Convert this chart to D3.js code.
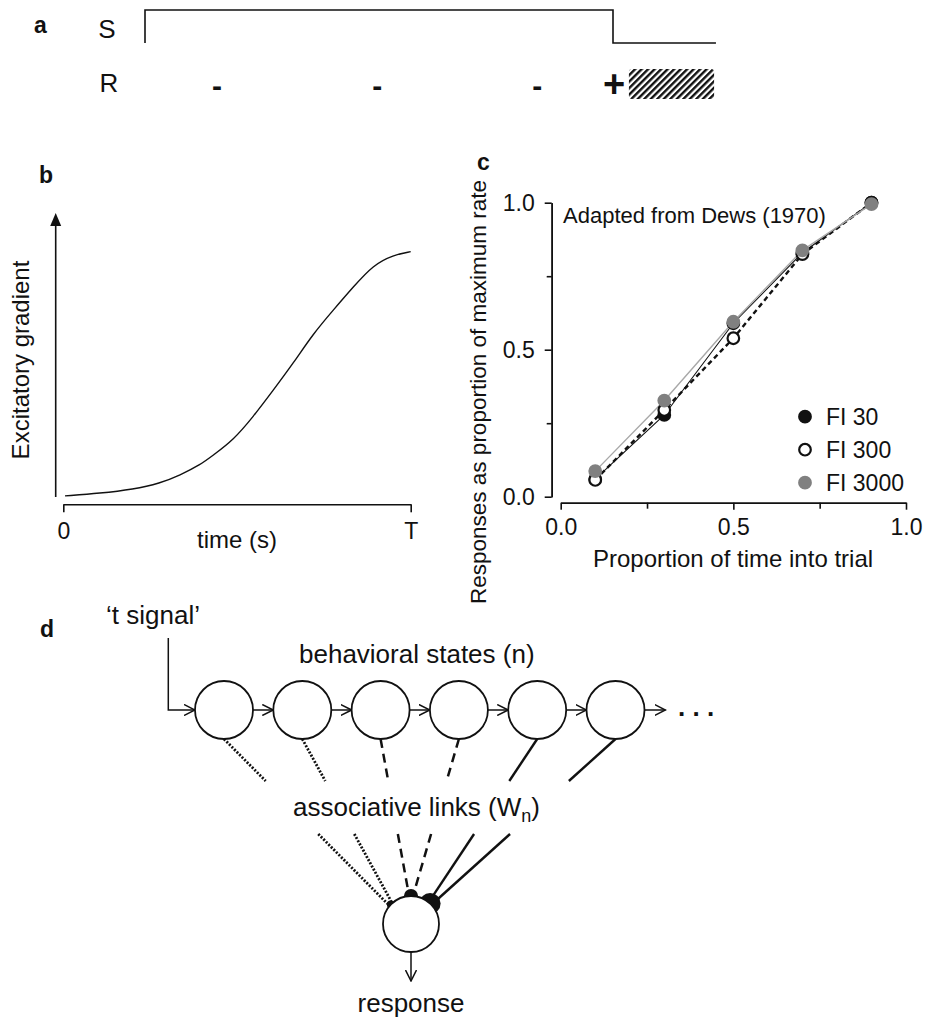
<!DOCTYPE html>
<html>
<head>
<meta charset="utf-8">
<script src="https://cdn.jsdelivr.net/npm/d3@7"></script>
<style>
  body { margin: 0; background: #fff; }
  svg { display: block; }
  text { font-family: "Liberation Sans", Arial, Helvetica, sans-serif; fill: #111; }
</style>
</head>
<body>
<svg id="fig" width="933" height="1023"></svg>
<script>
// ---------------- data ----------------
// (a) stimulus trace over one fixed-interval trial (time in trial units)
const stimulusTrace = [[0, 0], [0, 1], [1, 1], [1, 0], [1.22, 0]];
const unreinforcedTimes = [0.154, 0.496, 0.838];
const reinforcedTime = 1.0;
const reinforcerSpan = [1.034, 1.216];

// (b) excitatory gradient across the interval
const gradientTime  = [0.005, 0.106, 0.202, 0.278, 0.336, 0.394, 0.432, 0.489, 0.547, 0.605, 0.662, 0.720, 0.777, 0.835, 0.892, 0.950, 1.0];
const gradientValue = [0.004, 0.013, 0.027, 0.048, 0.077, 0.113, 0.148, 0.200, 0.283, 0.377, 0.471, 0.576, 0.658, 0.740, 0.817, 0.852, 0.864];
const timeTickLabels = ["0", "T"];

// (c) Dews (1970): responses as proportion of maximum rate
const trialProportion = [0.1, 0.3, 0.5, 0.7, 0.9];
const fi30   = [0.060, 0.278, 0.590, 0.830, 1.000];
const fi300  = [0.057, 0.295, 0.539, 0.825, 1.000];
const fi3000 = [0.087, 0.327, 0.595, 0.838, 0.995];
const seriesNames = ["FI 30", "FI 300", "FI 3000"];
const majorTicksC = [0, 0.5, 1];
const minorTicksC = [0.25, 0.75];

// (d) chain of behavioral states with associative links to the response unit
const stateIndex = [0, 1, 2, 3, 4, 5];
const linkStyle  = ["dotted", "dotted", "dashed", "dashed", "solid", "solid"];
const linkWeight = [0.38, 0.38, 0.67, 0.67, 1.0, 1.0];

// ---------------- drawing ----------------
const svg = d3.select("#fig");
const defs = svg.append("defs");

defs.append("marker").attr("id", "chev")
  .attr("viewBox", "0 0 12 12").attr("refX", 11).attr("refY", 6)
  .attr("markerWidth", 12).attr("markerHeight", 12).attr("markerUnits", "userSpaceOnUse")
  .attr("orient", "auto")
  .append("path").attr("d", "M0,0.5 L11,6 L0,11.5")
  .attr("fill", "none").attr("stroke", "#111").attr("stroke-width", 1.5);

defs.append("pattern").attr("id", "hatch")
  .attr("patternUnits", "userSpaceOnUse").attr("width", 4.6).attr("height", 4.6)
  .attr("patternTransform", "rotate(45)")
  .append("rect").attr("width", 2.4).attr("height", 4.6).attr("fill", "#111");

function panelLabel(t, x, y) {
  svg.append("text").attr("x", x).attr("y", y).attr("font-size", 23)
    .attr("font-weight", "bold").text(t);
}

// ===== (a) =====
panelLabel("a", 34, 33);
const xA = d3.scaleLinear().domain([0, 1]).range([145, 613]);
const yA = d3.scaleLinear().domain([0, 1]).range([43, 10]);
svg.append("text").attr("x", 107).attr("y", 38).attr("font-size", 26)
  .attr("text-anchor", "middle").text("S");
svg.append("text").attr("x", 109).attr("y", 92).attr("font-size", 26)
  .attr("text-anchor", "middle").text("R");
svg.append("path").datum(stimulusTrace)
  .attr("d", d3.line().x(d => xA(d[0])).y(d => yA(d[1])))
  .attr("fill", "none").attr("stroke", "#111").attr("stroke-width", 1.6);
svg.selectAll(".neg").data(unreinforcedTimes).join("text")
  .attr("x", d => xA(d)).attr("y", 96).attr("font-size", 30).attr("font-weight", "bold")
  .attr("text-anchor", "middle").text("-");
svg.append("text").attr("x", xA(reinforcedTime) + 1).attr("y", 97)
  .attr("font-size", 38).attr("font-weight", "bold").attr("text-anchor", "middle").text("+");
svg.append("rect")
  .attr("x", xA(reinforcerSpan[0])).attr("y", 69)
  .attr("width", xA(reinforcerSpan[1]) - xA(reinforcerSpan[0])).attr("height", 30)
  .attr("rx", 3).attr("fill", "url(#hatch)");

// ===== (b) =====
panelLabel("b", 39, 183);
const xB = d3.scaleLinear().domain([0, 1]).range([63.3, 410.7]);
const yB = d3.scaleLinear().domain([0, 1]).range([497, 213]);
svg.append("line")
  .attr("x1", 55.7).attr("x2", 55.7).attr("y1", yB(0)).attr("y2", yB(1) + 12)
  .attr("stroke", "#111").attr("stroke-width", 1.6);
svg.append("path").attr("d", `M${55.7 - 5.5},${yB(1) + 13} L55.7,${yB(1)} L${55.7 + 5.5},${yB(1) + 13} Z`)
  .attr("fill", "#111");
const axB = svg.append("g").attr("transform", "translate(0,504.3)")
  .call(d3.axisBottom(xB).tickValues([0, 1]).tickFormat((d, i) => timeTickLabels[i])
    .tickSizeInner(8).tickSizeOuter(0).tickPadding(10));
axB.select(".domain").attr("stroke", "#111").attr("stroke-width", 1.6);
axB.selectAll(".tick line").attr("stroke", "#111").attr("stroke-width", 1.6);
axB.selectAll(".tick text").attr("font-size", 23).attr("fill", "#111")
  .style("font-family", '"Liberation Sans", Arial, sans-serif');
svg.append("path")
  .datum(gradientTime.map((t, i) => [t, gradientValue[i]]))
  .attr("d", d3.line().x(d => xB(d[0])).y(d => yB(d[1])).curve(d3.curveBasis))
  .attr("fill", "none").attr("stroke", "#111").attr("stroke-width", 1.4);
svg.append("text").attr("x", 237).attr("y", 548).attr("font-size", 24)
  .attr("text-anchor", "middle").text("time (s)");
svg.append("text").attr("transform", "translate(29,360) rotate(-90)")
  .attr("font-size", 24).attr("text-anchor", "middle").text("Excitatory gradient");

// ===== (c) =====
panelLabel("c", 477, 170);
const xC = d3.scaleLinear().domain([0, 1]).range([560.7, 906]);
const yC = d3.scaleLinear().domain([0, 1]).range([496.7, 202.7]);
const fmt = d3.format(".1f");

function styleAxis(g) {
  g.select(".domain").attr("stroke", "#111").attr("stroke-width", 1.6);
  g.selectAll(".tick line").attr("stroke", "#111").attr("stroke-width", 1.6);
  g.selectAll(".tick text").attr("font-size", 23).attr("fill", "#111")
    .style("font-family", '"Liberation Sans", Arial, sans-serif');
}
const gyC = svg.append("g").attr("transform", "translate(551.7,0)")
  .call(d3.axisLeft(yC).tickValues(majorTicksC).tickFormat(fmt)
    .tickSizeInner(7).tickSizeOuter(0).tickPadding(10));
styleAxis(gyC);
const gyC2 = svg.append("g").attr("transform", "translate(551.7,0)")
  .call(d3.axisLeft(yC).tickValues(minorTicksC).tickFormat("").tickSizeInner(5).tickSizeOuter(0));
styleAxis(gyC2);
const gxC = svg.append("g").attr("transform", "translate(0,502.7)")
  .call(d3.axisBottom(xC).tickValues(majorTicksC).tickFormat(fmt)
    .tickSizeInner(7).tickSizeOuter(0).tickPadding(9));
styleAxis(gxC);
const gxC2 = svg.append("g").attr("transform", "translate(0,502.7)")
  .call(d3.axisBottom(xC).tickValues(minorTicksC).tickFormat("").tickSizeInner(6).tickSizeOuter(0));
styleAxis(gxC2);

svg.append("text").attr("x", 733).attr("y", 567).attr("font-size", 24)
  .attr("text-anchor", "middle").text("Proportion of time into trial");
svg.append("text").attr("transform", "translate(486,392) rotate(-90)")
  .attr("font-size", 22.5).attr("text-anchor", "middle")
  .text("Responses as proportion of maximum rate");
svg.append("text").attr("x", 563).attr("y", 223).attr("font-size", 22)
  .text("Adapted from Dews (1970)");

const series = [
  { name: seriesNames[0], values: fi30,   line: "#111", lw: 1.1, dash: null,  fill: "#111", stroke: "#111" },
  { name: seriesNames[1], values: fi300,  line: "#111", lw: 2.4, dash: "5,3.5", fill: "#fff", stroke: "#111" },
  { name: seriesNames[2], values: fi3000, line: "#a8a8a8", lw: 1.4, dash: null, fill: "#808080", stroke: "#808080" }
];
const lineC = d3.line().x((d, i) => xC(trialProportion[i])).y(d => yC(d));
series.forEach(s => {
  svg.append("path").datum(s.values).attr("d", lineC)
    .attr("fill", "none").attr("stroke", s.line).attr("stroke-width", s.lw)
    .attr("stroke-dasharray", s.dash);
});
series.forEach(s => {
  svg.append("g").selectAll("circle").data(s.values).join("circle")
    .attr("cx", (d, i) => xC(trialProportion[i])).attr("cy", d => yC(d))
    .attr("r", 5.8).attr("fill", s.fill).attr("stroke", s.stroke).attr("stroke-width", 2.2);
});
const legendY = d3.scaleLinear().domain([0, 2]).range([416.7, 482.7]);
series.forEach((s, i) => {
  svg.append("circle").attr("cx", 805).attr("cy", legendY(i)).attr("r", 5.8)
    .attr("fill", s.fill).attr("stroke", s.stroke).attr("stroke-width", 2.2);
  svg.append("text").attr("x", 826).attr("y", legendY(i) + 8.5).attr("font-size", 23)
    .text(s.name);
});

// ===== (d) =====
panelLabel("d", 40, 637);
const xD = d3.scaleLinear().domain([0, 5]).range([224, 615.5]);
const cyD = 710, rD = 29;
const neuron = { x: 411, y: 924, r: 28 };

svg.append("text").attr("x", 106).attr("y", 624).attr("font-size", 26).text("\u2018t signal\u2019");
svg.append("text").attr("x", 299).attr("y", 663).attr("font-size", 26).text("behavioral states (n)");
const assoc = svg.append("text").attr("x", 293).attr("y", 816).attr("font-size", 26);
assoc.append("tspan").text("associative links (W");
assoc.append("tspan").attr("font-size", 18).attr("dy", 6).text("n");
assoc.append("tspan").attr("dy", -6).text(")");
svg.append("text").attr("x", neuron.x).attr("y", 1012).attr("font-size", 26)
  .attr("text-anchor", "middle").text("response");

// input signal into the first state
svg.append("path")
  .attr("d", `M168.3,638 L168.3,${cyD} L${xD(0) - rD},${cyD}`)
  .attr("fill", "none").attr("stroke", "#111").attr("stroke-width", 1.5)
  .attr("marker-end", "url(#chev)");
// arrows between states
stateIndex.forEach(i => {
  const x1 = xD(i) + rD;
  const x2 = i < stateIndex.length - 1 ? xD(i + 1) - rD : xD(i) + rD + 21;
  svg.append("line").attr("x1", x1).attr("x2", x2).attr("y1", cyD).attr("y2", cyD)
    .attr("stroke", "#111").attr("stroke-width", 1.5).attr("marker-end", "url(#chev)");
});
svg.append("text").attr("x", 678).attr("y", 716).attr("font-size", 26)
  .attr("font-weight", "bold").text(". . .");

// associative links, interrupted by the label
const knobAngle = { dotted: -136, dashed: -90, solid: -47 };
const dashOf = { dotted: "2,1.6", dashed: "9,6", solid: null };
const widthOf = { dotted: 2.8, dashed: 2.5, solid: 2.4 };
const gapTop = 781, gapBottom = 834;
const knobs = {};
stateIndex.forEach(i => {
  const st = linkStyle[i];
  const a = knobAngle[st] * Math.PI / 180;
  const kr = 10.5 * linkWeight[i];
  const kx = neuron.x + neuron.r * Math.cos(a);
  const ky = neuron.y + neuron.r * Math.sin(a);
  knobs[st] = { x: kx, y: ky, r: kr };
  const sx = xD(i), sy = cyD + rD;
  const side = (i % 2 === 0) ? -1 : 1;
  const dx = sx - kx, dy = sy - ky, len = Math.hypot(dx, dy);
  const ex = kx + (dx / len) * kr * 0.7 + side * 1.8 * (-dy / len);
  const ey = ky + (dy / len) * kr * 0.7 + side * 1.8 * (dx / len);
  const at = y => sx + (ex - sx) * (y - sy) / (ey - sy);
  [[sx, sy, at(gapTop), gapTop], [at(gapBottom), gapBottom, ex, ey]].forEach(seg => {
    svg.append("line").attr("x1", seg[0]).attr("y1", seg[1]).attr("x2", seg[2]).attr("y2", seg[3])
      .attr("stroke", "#111").attr("stroke-width", widthOf[st])
      .attr("stroke-dasharray", dashOf[st]);
  });
});

// state circles
svg.append("g").selectAll("circle").data(stateIndex).join("circle")
  .attr("cx", d => xD(d)).attr("cy", cyD).attr("r", rD)
  .attr("fill", "#fff").attr("stroke", "#111").attr("stroke-width", 1.8);

// synaptic knobs and response unit
Object.values(knobs).forEach(k => {
  svg.append("circle").attr("cx", k.x).attr("cy", k.y).attr("r", k.r).attr("fill", "#111");
});
svg.append("circle").attr("cx", neuron.x).attr("cy", neuron.y).attr("r", neuron.r)
  .attr("fill", "#fff").attr("stroke", "#111").attr("stroke-width", 1.8);
svg.append("line").attr("x1", neuron.x).attr("x2", neuron.x)
  .attr("y1", neuron.y + neuron.r).attr("y2", 981)
  .attr("stroke", "#111").attr("stroke-width", 1.5).attr("marker-end", "url(#chev)");
</script>
</body>
</html>
